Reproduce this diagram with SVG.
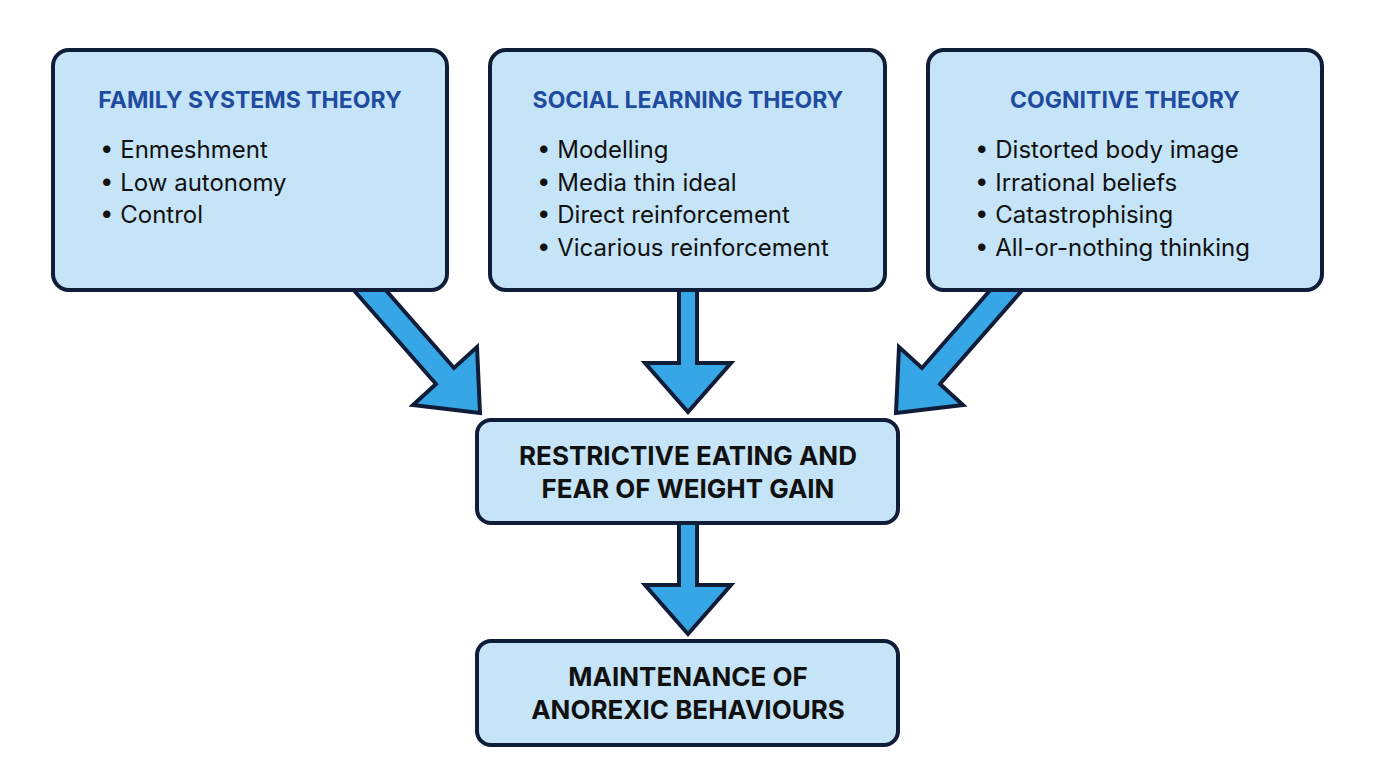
<svg xmlns="http://www.w3.org/2000/svg" width="1376" height="768" viewBox="0 0 1376 768">
<style>
.box{fill:#c6e4f8;stroke:#0f1d38;stroke-width:4}
.arr{fill:#36a6e6;stroke:#0f1d38;stroke-width:4;stroke-linejoin:miter}
.t{font-family:"Inter","Liberation Sans",sans-serif;font-weight:700;font-size:23px;fill:#1f4c9e;text-anchor:middle}
.b{font-family:"Inter","Liberation Sans",sans-serif;font-size:24px;fill:#111}
.m{font-family:"Inter","Liberation Sans",sans-serif;font-weight:700;font-size:26px;fill:#111;text-anchor:middle}
</style>
<rect width="1376" height="768" fill="#fff"/>
<g id="connectors">
<polygon class="arr" points="369,271 454,368 477,347 480,413 413,405 436,384 351,287"/>
<polygon class="arr" points="1007,271 922,368 899,347 896,413 963,405 940,384 1025,287"/>
<polygon class="arr" points="679,280 697,280 697,363 731,363 688,412 645,363 679,363"/>
<polygon class="arr" points="679,515 697,515 697,585 731,585 688,634 645,585 679,585"/>
</g>
<g id="family">
<rect class="box" x="53" y="50" width="394" height="240" rx="16"/>
<text class="t" x="250" y="108">FAMILY SYSTEMS THEORY</text>
<text class="b" x="100" y="158">• Enmeshment</text>
<text class="b" x="100" y="191">• Low autonomy</text>
<text class="b" x="100" y="223">• Control</text>
</g>
<g id="social">
<rect class="box" x="490" y="50" width="395" height="240" rx="16"/>
<text class="t" x="688" y="108">SOCIAL LEARNING THEORY</text>
<text class="b" x="537" y="158">• Modelling</text>
<text class="b" x="537" y="191">• Media thin ideal</text>
<text class="b" x="537" y="223">• Direct reinforcement</text>
<text class="b" x="537" y="256">• Vicarious reinforcement</text>
</g>
<g id="cognitive">
<rect class="box" x="928" y="50" width="394" height="240" rx="16"/>
<text class="t" x="1125" y="108">COGNITIVE THEORY</text>
<text class="b" x="975" y="158">• Distorted body image</text>
<text class="b" x="975" y="191">• Irrational beliefs</text>
<text class="b" x="975" y="223">• Catastrophising</text>
<text class="b" x="975" y="256">• All-or-nothing thinking</text>
</g>
<g id="restrictive">
<rect class="box" x="477" y="420" width="421" height="103" rx="14"/>
<text class="m" x="688" y="465">RESTRICTIVE EATING AND</text>
<text class="m" x="688" y="498">FEAR OF WEIGHT GAIN</text>
</g>
<g id="maintenance">
<rect class="box" x="477" y="641" width="421" height="104" rx="14"/>
<text class="m" x="688" y="686">MAINTENANCE OF</text>
<text class="m" x="688" y="719">ANOREXIC BEHAVIOURS</text>
</g>
</svg>
